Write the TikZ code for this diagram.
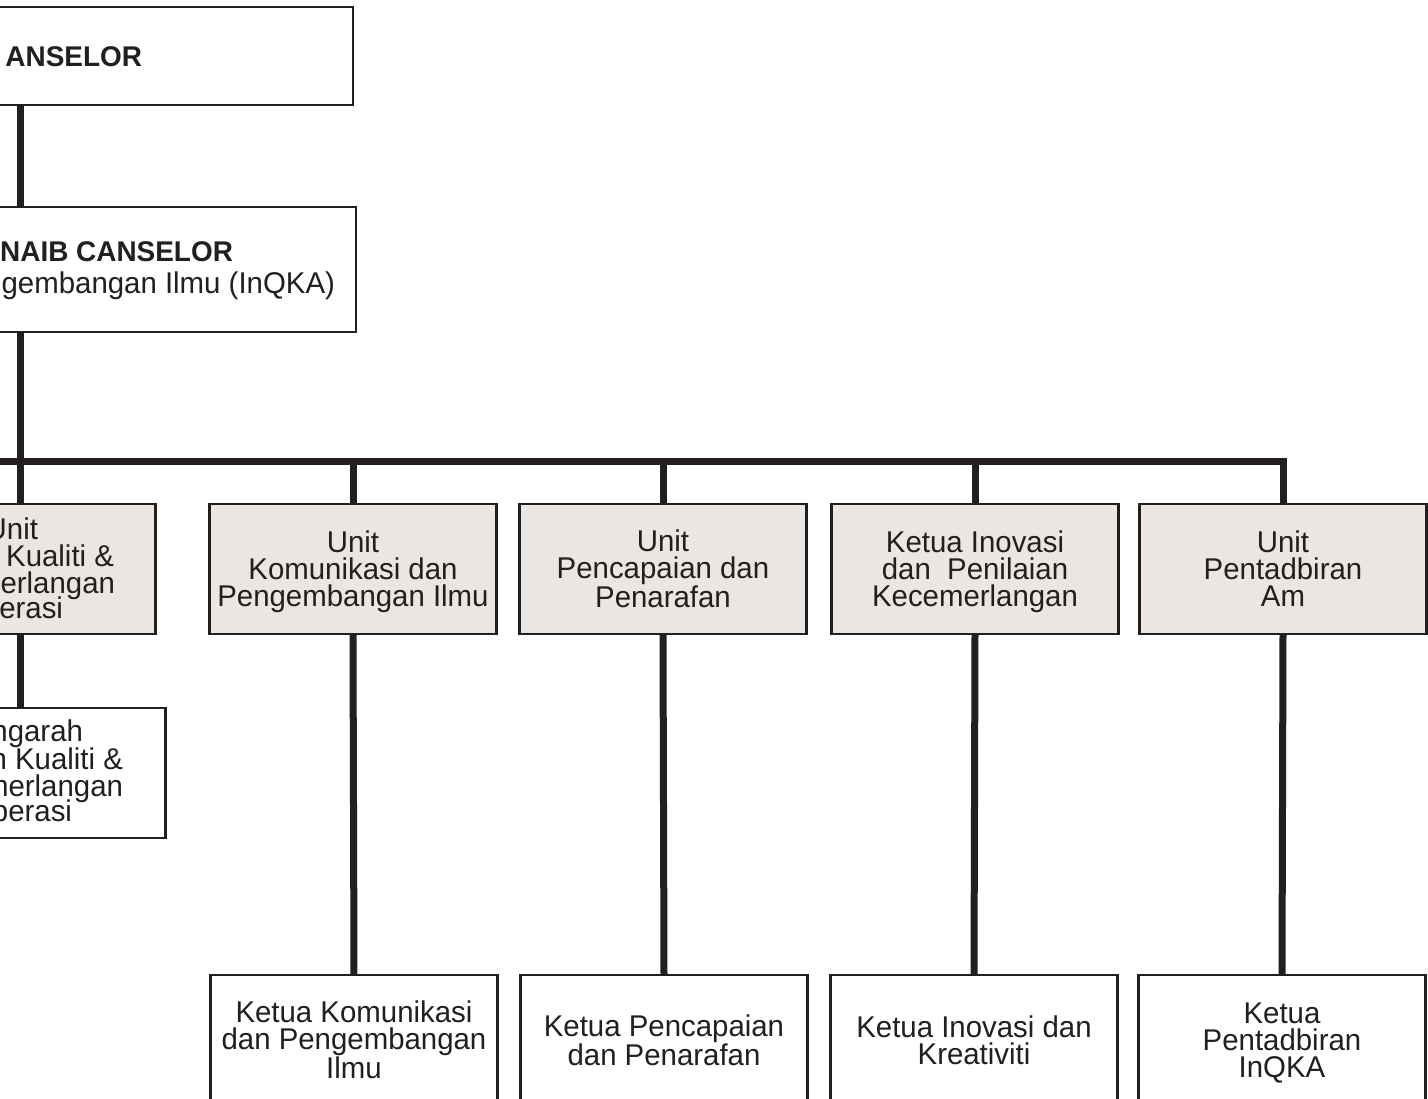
\documentclass[tikz,border=0pt]{standalone}
\usepackage{fontspec}
\setmainfont{Liberation Sans}[FakeStretch=0.98]
\definecolor{ink}{RGB}{35,31,32}
\definecolor{unitfill}{RGB}{234,230,226}
\begin{document}
\begin{tikzpicture}[x=1pt,y=-1pt,
  every node/.style={inner sep=0pt,outer sep=0pt,text=ink},
  box/.style={draw=ink,line width=2.5pt,fill=white,minimum width=287pt,minimum height=130pt,align=center,
     text depth=0pt,font=\fontsize{30}{27}\selectfont},
  unitbox/.style={box,fill=unitfill},
  headbox/.style={draw=ink,line width=2.5pt,fill=white},
  frag/.style={anchor=base east,font=\fontsize{30}{27}\selectfont},
  boldfrag/.style={anchor=base east,font=\fontsize{28.5}{27}\selectfont\bfseries},
  conn/.style={draw=ink,line width=7pt}]
\useasboundingbox (0,0) rectangle (1428,1099);
\clip (0,0) rectangle (1428,1099);
\fill[white] (0,0) rectangle (1428,1099);
\coordinate (trunk) at (20,0);
\coordinate (bar) at (0,461);
% boxes
\node[headbox,minimum width=666pt,minimum height=98pt] (vc) at (20,56) {};
\node[headbox,minimum width=672pt,minimum height=125pt] (tnc) at (20,269.5) {};
\node[unitbox] (u1) at (12,569) {};
\node[unitbox] (u2) at (353,569) {Unit\\Komunikasi dan\\Pengembangan Ilmu};
\node[unitbox] (u3) at (663,569) {Unit\\Pencapaian dan\\Penarafan};
\node[unitbox] (u4) at (975,569) {Ketua Inovasi\\dan~ Penilaian\\Kecemerlangan};
\node[unitbox] (u5) at (1283,569) {Unit\\Pentadbiran\\Am};
\node[box] (l1) at (22,773) {};
\node[box] (b2) at (354,1040) {Ketua Komunikasi\\dan Pengembangan\\Ilmu};
\node[box] (b3) at (664,1040) {Ketua Pencapaian\\dan Penarafan};
\node[box] (b4) at (974,1040) {Ketua Inovasi dan\\Kreativiti};
\node[box] (b5) at (1282,1040) {Ketua\\Pentadbiran\\InQKA};
% connectors
\draw[conn] (vc.south -| trunk) -- (tnc.north -| trunk);
\draw[conn] (tnc.south -| trunk) -- (trunk |- bar) -- (u1.north -| trunk);
\draw[conn,line cap=rect] (-300,461) -- (u5.north |- bar);
\draw[conn] (u5.north |- bar) -- (u5.north);
\draw[conn] (u2.north |- bar) -- (u2.north);
\draw[conn] (u3.north |- bar) -- (u3.north);
\draw[conn] (u4.north |- bar) -- (u4.north);
\draw[conn] (u1.south -| trunk) -- (l1.north -| trunk);
\draw[conn] (u2.south) -- (b2.north);
\draw[conn] (u3.south) -- (b3.north);
\draw[conn] (u4.south) -- (b4.north);
\draw[conn] (u5.south) -- (b5.north);
% box outlines over connector ends
\foreach \n in {vc,tnc,u1,u2,u3,u4,u5,l1,b2,b3,b4,b5}{
  \draw[ink,line width=2.5pt] (\n.north west) rectangle (\n.south east);
}
% visible text fragments of the cut-off boxes
\node[boldfrag] (t1) at (142,67) {ANSELOR};
\node[boldfrag] (t2) at (233,262) {NAIB CANSELOR};
\node[frag] (t3) at (335,294) {ngembangan Ilmu (InQKA)};
\node[frag] (t4) at (38,539) {Unit};
\node[frag] (t5) at (114,566) {Kualiti \&};
\node[frag] (t6) at (115,593) {merlangan};
\node[frag] (t7) at (63,618) {erasi};
\node[frag] (t8) at (83,741) {ngarah};
\node[frag] (t9) at (123,769) {n Kualiti \&};
\node[frag] (t10) at (123,796) {merlangan};
\node[frag] (t11) at (72,821) {perasi};
\end{tikzpicture}
\end{document}
